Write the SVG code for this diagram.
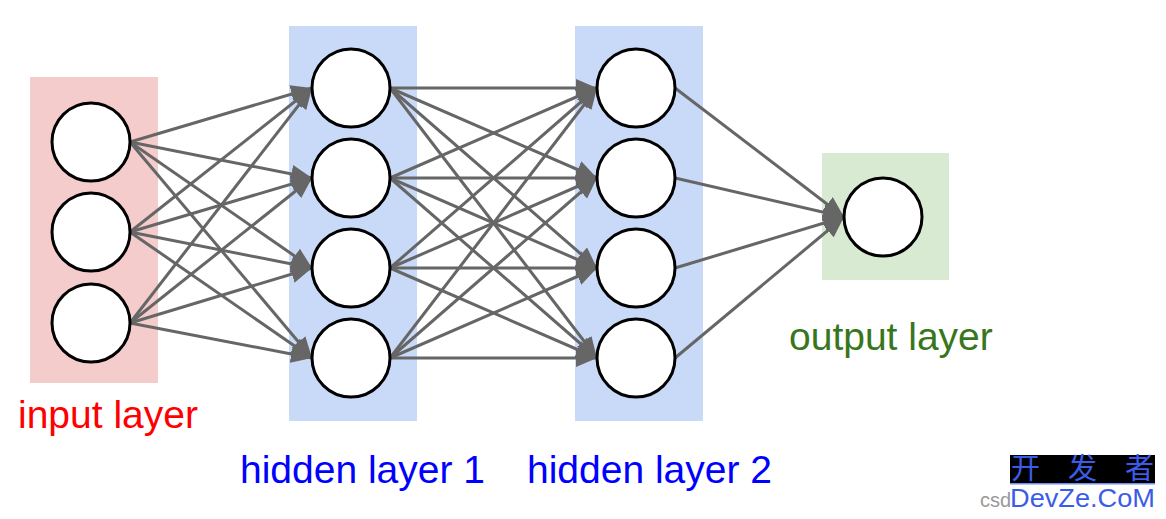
<svg xmlns="http://www.w3.org/2000/svg" width="1166" height="519" viewBox="0 0 1166 519">
<style>
.layer-in{fill:#f4cccc}
.layer-h{fill:#c9daf8}
.layer-out{fill:#d9ead3}
.neuron{fill:#ffffff;stroke:#000000;stroke-width:3}
.edge{stroke:#666666;stroke-width:3;fill:none;marker-end:url(#ah)}
.lbl{font-family:"Liberation Sans",Arial,sans-serif;font-size:39px}
.cjk{font-family:"Noto Sans CJK SC",sans-serif;font-size:29px;fill:#3b5ce8}
</style>
<defs>
<marker id="ah" markerUnits="userSpaceOnUse" markerWidth="22" markerHeight="18" refX="21" refY="9" orient="auto">
<path d="M0,0 L21,9 L0,18 z" fill="#666666"/>
</marker>
</defs>
<rect width="1166" height="519" fill="#ffffff"/>
<g id="bands">
<rect class="layer-in" x="30" y="77" width="128" height="306"/>
<rect class="layer-h" x="289" y="26" width="128" height="395"/>
<rect class="layer-h" x="575" y="26" width="128" height="395"/>
<rect class="layer-out" x="822" y="153" width="127" height="127"/>
</g>
<g id="connectors">
<line class="edge" x1="130" y1="142" x2="312" y2="88"/>
<line class="edge" x1="130" y1="142" x2="312" y2="178"/>
<line class="edge" x1="130" y1="142" x2="312" y2="268"/>
<line class="edge" x1="130" y1="142" x2="312" y2="358"/>
<line class="edge" x1="130" y1="232" x2="312" y2="88"/>
<line class="edge" x1="130" y1="232" x2="312" y2="178"/>
<line class="edge" x1="130" y1="232" x2="312" y2="268"/>
<line class="edge" x1="130" y1="232" x2="312" y2="358"/>
<line class="edge" x1="130" y1="323" x2="312" y2="88"/>
<line class="edge" x1="130" y1="323" x2="312" y2="178"/>
<line class="edge" x1="130" y1="323" x2="312" y2="268"/>
<line class="edge" x1="130" y1="323" x2="312" y2="358"/>
<line class="edge" x1="390" y1="88" x2="597" y2="88"/>
<line class="edge" x1="390" y1="88" x2="597" y2="178"/>
<line class="edge" x1="390" y1="88" x2="597" y2="268"/>
<line class="edge" x1="390" y1="88" x2="597" y2="358"/>
<line class="edge" x1="390" y1="178" x2="597" y2="88"/>
<line class="edge" x1="390" y1="178" x2="597" y2="178"/>
<line class="edge" x1="390" y1="178" x2="597" y2="268"/>
<line class="edge" x1="390" y1="178" x2="597" y2="358"/>
<line class="edge" x1="390" y1="268" x2="597" y2="88"/>
<line class="edge" x1="390" y1="268" x2="597" y2="178"/>
<line class="edge" x1="390" y1="268" x2="597" y2="268"/>
<line class="edge" x1="390" y1="268" x2="597" y2="358"/>
<line class="edge" x1="390" y1="358" x2="597" y2="88"/>
<line class="edge" x1="390" y1="358" x2="597" y2="178"/>
<line class="edge" x1="390" y1="358" x2="597" y2="268"/>
<line class="edge" x1="390" y1="358" x2="597" y2="358"/>
<line class="edge" x1="675" y1="88" x2="844" y2="217"/>
<line class="edge" x1="675" y1="178" x2="844" y2="217"/>
<line class="edge" x1="675" y1="268" x2="844" y2="217"/>
<line class="edge" x1="675" y1="358" x2="844" y2="217"/>
</g>
<g id="input-layer">
<circle class="neuron" cx="91" cy="142" r="39"/>
<circle class="neuron" cx="91" cy="232" r="39"/>
<circle class="neuron" cx="91" cy="323" r="39"/>
<text class="lbl" x="18" y="428" fill="#ff0000">input layer</text>
</g>
<g id="hidden-layer-1">
<circle class="neuron" cx="351" cy="88" r="39"/>
<circle class="neuron" cx="351" cy="178" r="39"/>
<circle class="neuron" cx="351" cy="268" r="39"/>
<circle class="neuron" cx="351" cy="358" r="39"/>
<text class="lbl" x="240" y="483" fill="#0000ff">hidden layer 1</text>
</g>
<g id="hidden-layer-2">
<circle class="neuron" cx="636" cy="88" r="39"/>
<circle class="neuron" cx="636" cy="178" r="39"/>
<circle class="neuron" cx="636" cy="268" r="39"/>
<circle class="neuron" cx="636" cy="358" r="39"/>
<text class="lbl" x="527" y="483" fill="#0000ff">hidden layer 2</text>
</g>
<g id="output-layer">
<circle class="neuron" cx="883" cy="217" r="39"/>
<text class="lbl" x="789" y="350" fill="#38761d">output layer</text>
</g>
<g id="watermark">
<rect x="1010" y="455" width="145" height="28" fill="#000000"/>
<rect x="1010" y="483" width="145" height="1.5" fill="#6f8ff0"/>
<text class="cjk" x="1011" y="479">开</text>
<text class="cjk" x="1068" y="479">发</text>
<text class="cjk" x="1125" y="479">者</text>
<text x="980" y="507" font-family="'Liberation Sans',Arial,sans-serif" font-size="20" fill="#999999">csd</text>
<text x="1010" y="507" font-family="'Liberation Sans',Arial,sans-serif" font-size="26" fill="#3b5ce8" textLength="145" lengthAdjust="spacingAndGlyphs">DevZe.CoM</text>
</g>
</svg>
